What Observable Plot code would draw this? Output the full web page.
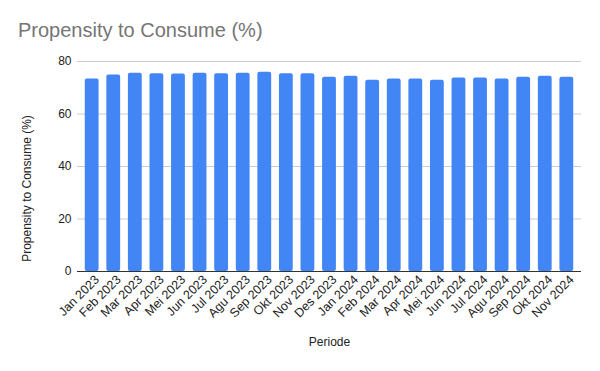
<!DOCTYPE html>
<html><head><meta charset="utf-8">
<script src="https://cdn.jsdelivr.net/npm/d3@7"></script>
<script src="https://cdn.jsdelivr.net/npm/@observablehq/plot@0.6"></script>
<style>
body{margin:0;background:#fff;}
#wrap{position:relative;width:600px;height:371px;}
#title{position:absolute;left:18px;top:19px;font-family:"Liberation Sans",Arial,sans-serif;font-size:20px;color:#757575;z-index:2;}
#chart{position:absolute;left:0;top:0;}
</style></head>
<body><div id="wrap"><div id="title">Propensity to Consume (%)</div><div id="chart"></div></div>
<script>
const periods = ["Jan 2023","Feb 2023","Mar 2023","Apr 2023","Mei 2023","Jun 2023","Jul 2023","Agu 2023","Sep 2023","Okt 2023","Nov 2023","Des 2023","Jan 2024","Feb 2024","Mar 2024","Apr 2024","Mei 2024","Jun 2024","Jul 2024","Agu 2024","Sep 2024","Okt 2024","Nov 2024"];
const values = [73.3,74.9,75.5,75.3,75.2,75.5,75.3,75.5,75.9,75.3,75.3,74.0,74.4,72.9,73.3,73.3,72.9,73.7,73.7,73.3,74.0,74.4,74.0];
const yTicks = [0,20,40,60,80];
const data = periods.map((p,i)=>({p, v: values[i]}));
const chart = Plot.plot({
  width: 600, height: 371,
  marginLeft: 77, marginRight: 19, marginTop: 61, marginBottom: 100,
  style: {fontFamily: '"Liberation Sans",Arial,sans-serif', fontSize: "12px", color: "#222"},
  x: {domain: periods, padding: 0.36, round: false, label: null},
  y: {domain: [0,80], label: null},
  marks: [
    Plot.gridY(yTicks, {stroke: "#ccc", strokeOpacity: 1}),
    Plot.barY(data, {x: "p", y: "v", fill: "#4285F4", rx: 2}),
    Plot.ruleY([0], {stroke: "#333"}),
    Plot.axisX({tickSize: 0, tickRotate: -45, tickPadding: 6, label: null, fill: "#222", fontSize: 12.5, dx: 5}),
    Plot.axisY(yTicks, {tickSize: 0, tickPadding: 6, label: null, fill: "#222", fontSize: 12}),
    Plot.text(["Periode"], {frameAnchor: "bottom", dy: 74, fontSize: 12, fill: "#222"}),
    Plot.text(["Propensity to Consume (%)"], {frameAnchor: "left", textAnchor: "middle", dx: -50, dy: 22, rotate: -90, fontSize: 12, fill: "#222"})
  ]
});
document.getElementById("chart").append(chart);
</script></body></html>
